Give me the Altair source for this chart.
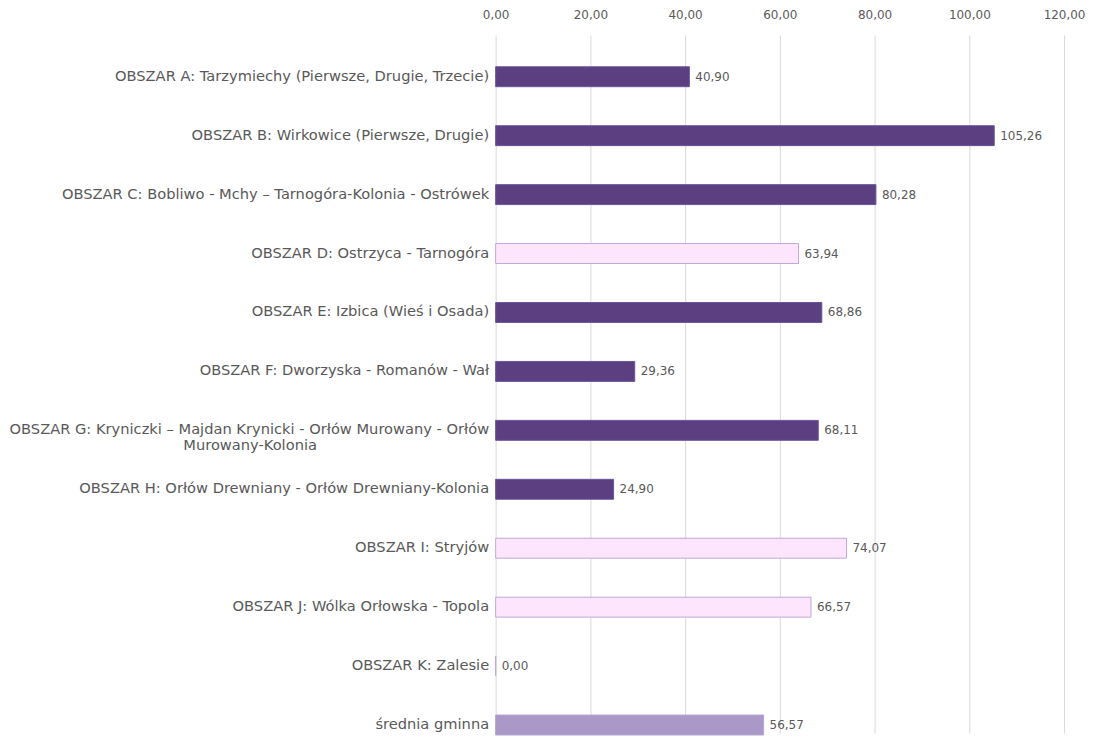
import altair as alt
import pandas as pd

categories = [
    "OBSZAR A: Tarzymiechy (Pierwsze, Drugie, Trzecie)",
    "OBSZAR B: Wirkowice (Pierwsze, Drugie)",
    "OBSZAR C: Bobliwo - Mchy \u2013 Tarnogóra-Kolonia - Ostrówek",
    "OBSZAR D: Ostrzyca - Tarnogóra",
    "OBSZAR E: Izbica (Wieś i Osada)",
    "OBSZAR F: Dworzyska - Romanów - Wał",
    "OBSZAR G: Kryniczki \u2013 Majdan Krynicki - Orłów Murowany - Orłów|Murowany-Kolonia" + "\u00a0" * 37 + "\u200b",
    "OBSZAR H: Orłów Drewniany - Orłów Drewniany-Kolonia",
    "OBSZAR I: Stryjów",
    "OBSZAR J: Wólka Orłowska - Topola",
    "OBSZAR K: Zalesie",
    "średnia gminna",
]
values = [40.90, 105.26, 80.28, 63.94, 68.86, 29.36, 68.11, 24.90, 74.07, 66.57, 0.00, 56.57]
kinds = ["dark", "dark", "dark", "light", "dark", "dark", "dark", "dark", "light", "light", "light", "avg"]

df = pd.DataFrame({
    "cat": categories,
    "value": values,
    "kind": kinds,
    "label": [f"{v:.2f}".replace(".", ",") for v in values],
})

FONT = "DejaVu Sans"
GRAY = "#595959"

y_enc = alt.Y(
    "cat:N",
    sort=categories,
    title=None,
    scale=alt.Scale(paddingInner=0.73, paddingOuter=0.287, align=1),
    axis=alt.Axis(
        domain=False, ticks=False, labelFont=FONT, labelFontSize=14.7,
        labelColor=GRAY, labelPadding=7, labelLimit=700,
        labelExpr="split(datum.label, '|')", labelLineHeight=16,
    ),
)

x_enc = alt.X(
    "value:Q",
    title=None,
    scale=alt.Scale(domain=[0, 120], nice=False),
    axis=alt.Axis(
        orient="top", values=[0, 20, 40, 60, 80, 100, 120],
        labelExpr="replace(format(datum.value, '.2f'), '.', ',')",
        labelFlush=False,
        domain=False, ticks=False, grid=True, gridColor="#d9d9d9",
        labelFont=FONT, labelFontSize=12, labelColor=GRAY, labelPadding=13,
    ),
)

color_scale = alt.Scale(domain=["dark", "light", "avg"], range=["#5b3f80", "#fde6fd", "#a998c8"])
stroke_scale = alt.Scale(domain=["dark", "light", "avg"], range=["#6a55a0", "#bfa8dc", "#b4a6d2"])

bars = alt.Chart(df).mark_bar(size=20, strokeWidth=1).encode(
    y=y_enc,
    x=x_enc,
    color=alt.Color("kind:N", scale=color_scale, legend=None),
    stroke=alt.Stroke("kind:N", scale=stroke_scale, legend=None),
)

text = alt.Chart(df).mark_text(
    align="left", baseline="middle", dx=6, font=FONT, fontSize=12, color=GRAY
).encode(
    y=alt.Y("cat:N", sort=categories),
    x="value:Q",
    text="label:N",
)

chart = (bars + text).properties(
    width=570, height=700, padding={"left": 0, "right": 0, "top": 0, "bottom": 0}
).configure_view(stroke=None)

chart.save("out.html", embed_options={"renderer": "svg", "actions": False})
